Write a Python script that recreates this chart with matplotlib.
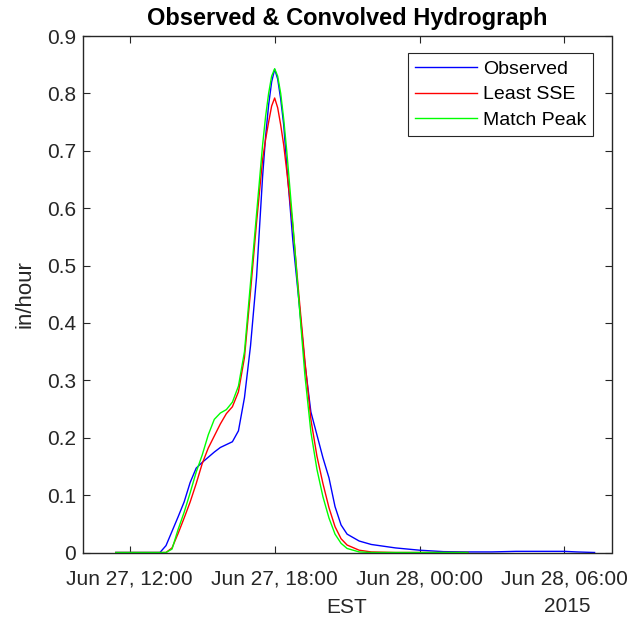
import matplotlib
matplotlib.use("Agg")
import matplotlib.pyplot as plt
import matplotlib.dates as mdates
import pandas as pd

plt.rcParams['font.family'] = ['Liberation Sans', 'DejaVu Sans']

# hours relative to 2015-06-27 12:00 (EST)
hours = [-0.58, 0.0, 0.5, 1.0, 1.25, 1.5, 1.75, 2.0, 2.25, 2.5, 2.75, 3.0, 3.25, 3.5,
         3.75, 4.0, 4.25, 4.5, 4.75, 5.0, 5.25, 5.5, 5.625, 5.75, 5.875, 6.0, 6.125, 6.25,
         6.375, 6.5, 6.75,
         7.0, 7.25, 7.5, 7.75, 8.0, 8.25, 8.5, 8.75, 9.0, 9.5, 10.0, 11.0, 12.0,
         13.0, 14.0, 15.0, 16.0, 17.0, 18.0, 18.5, 19.25]

observed = [0, 0, 0, 0, 0.0, 0.012, 0.037, 0.062, 0.088, 0.122, 0.147, 0.157, 0.166, 0.175,
            0.183, 0.188, 0.193, 0.212, 0.27, 0.36, 0.48, 0.655, 0.725, 0.78, 0.82, 0.842, 0.825, 0.79,
            0.745, 0.675, 0.545,
            0.44, 0.33, 0.245, 0.205, 0.165, 0.13, 0.08, 0.048, 0.032, 0.02, 0.014, 0.008, 0.004,
            0.0015, 0.001, 0.001, 0.002, 0.002, 0.002, 0.001, 0.0]

least_sse = [0, 0, 0, 0, 0, 0.0, 0.008, 0.033, 0.06, 0.088, 0.12, 0.155, 0.182, 0.203,
             0.224, 0.242, 0.254, 0.28, 0.34, 0.455, 0.575, 0.685, 0.72, 0.75, 0.778, 0.792, 0.775, 0.745,
             0.71, 0.665, 0.57,
             0.45, 0.335, 0.232, 0.168, 0.12, 0.078, 0.045, 0.024, 0.013, 0.004, 0.001, 0, 0,
             0, 0, None, None, None, None, None, None]

match_peak = [0, 0, 0, 0, 0, 0.0, 0.006, 0.04, 0.07, 0.104, 0.14, 0.17, 0.205, 0.232,
              0.243, 0.249, 0.262, 0.29, 0.35, 0.47, 0.59, 0.71, 0.76, 0.80, 0.83, 0.843, 0.83, 0.80,
              0.755, 0.70, 0.575,
              0.44, 0.31, 0.21, 0.145, 0.097, 0.06, 0.032, 0.016, 0.007, 0.001, 0, 0, 0,
              0, 0, None, None, None, None, None, None]

labels = ['Observed', 'Least SSE', 'Match Peak']
colors = ['#0000ff', '#ff0000', '#00ff00']

base = pd.Timestamp('2015-06-27 12:00')
t = [base + pd.Timedelta(hours=h) for h in hours]

def valid(vals):
    tt = [ti for ti, v in zip(t, vals) if v is not None]
    vv = [v for v in vals if v is not None]
    return tt, vv

fig = plt.figure(figsize=(6.32, 6.22), dpi=100)
ax = fig.add_axes([82.7/632, 1-552.5/622, (611.5-82.7)/632, (552.5-36)/622])

for vals, lab, c in zip([observed, least_sse, match_peak], labels, colors):
    tt, vv = valid(vals)
    ax.plot(tt, vv, color=c, lw=1.0, label=lab)

ax.set_xlim(base + pd.Timedelta(hours=-1.95), base + pd.Timedelta(hours=19.95))
ax.set_ylim(0, 0.9)
ax.set_yticks([0, 0.1, 0.2, 0.3, 0.4, 0.5, 0.6, 0.7, 0.8, 0.9])
ax.set_yticklabels(['0', '0.1', '0.2', '0.3', '0.4', '0.5', '0.6', '0.7', '0.8', '0.9'])
xt = [base + pd.Timedelta(hours=h) for h in [0, 6, 12, 18]]
ax.set_xticks(xt)
ax.xaxis.set_major_formatter(mdates.DateFormatter('%b %d, %H:%M'))

dark = '#262626'
for s in ax.spines.values():
    s.set_color(dark)
    s.set_linewidth(1.0)
ax.tick_params(direction='in', length=5, width=0.8, colors=dark, labelsize=15,
               top=True, right=True)
ax.tick_params(axis='x', pad=12)
ax.tick_params(axis='y', pad=5)

ax.set_title('Observed & Convolved Hydrograph', fontsize=17, fontweight='bold',
             color='black', pad=8)
ax.set_ylabel('in/hour', fontsize=16, color=dark, labelpad=8)
ax.set_xlabel('EST', fontsize=15, color=dark, labelpad=7)
ax.text(0.917, -0.105, '2015', transform=ax.transAxes, ha='center', va='center',
        fontsize=15, color=dark)

leg = ax.legend(loc='upper right', bbox_to_anchor=(0.9655, 0.9665), borderaxespad=0,
                fontsize=14, handlelength=3.2, handletextpad=0.3, labelspacing=0.42,
                borderpad=0.35, fancybox=False, framealpha=1, edgecolor=dark)
leg.get_frame().set_linewidth(0.8)

fig.savefig('out.png', dpi=100)
